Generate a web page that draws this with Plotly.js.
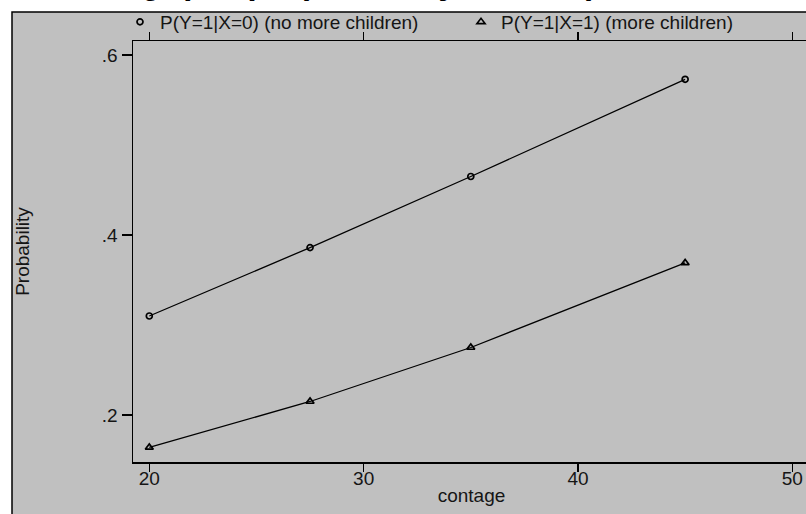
<!DOCTYPE html>
<html>
<head>
<meta charset="utf-8">
<script src="https://cdn.plot.ly/plotly-3.0.1.min.js"></script>
<style>
html, body { margin: 0; padding: 0; overflow: hidden; background: #ffffff; }
#chart { width: 810px; height: 514px; }
</style>
</head>
<body>
<div id="chart"></div>
<script>
// ---- data ----
const contage = [20, 27.5, 35, 45];
const pNoMoreChildren = [0.310, 0.386, 0.465, 0.573];
const pMoreChildren = [0.164, 0.215, 0.275, 0.369];
const seriesNames = ['P(Y=1|X=0) (no more children)', 'P(Y=1|X=1) (more children)'];
const xTickVals = [20, 30, 40, 50];
const xTickText = ['20', '30', '40', '50'];
const yTickVals = [0.2, 0.4, 0.6];
const yTickText = ['.2', '.4', '.6'];
const xTitle = 'contage';
const yTitle = 'Probability';
const topCommandText = 'e contage) c(ll) xlab ylab l1("Probabilit';

// ---- geometry helpers (pixels -> paper) ----
const W = 810, H = 514, ML = 133, MR = 0, MT = 41, MB = 52;
const PW = W - ML - MR, PH = H - MT - MB;
const px = x => (x - ML) / PW;
const py = y => 1 - (y - MT) / PH;

const FONT = 'Liberation Sans, Arial, Helvetica, sans-serif';
const TXT = '#151515';
const FS = 19;

const circleMarker = { symbol: 'circle-open', size: 6, color: '#000000', line: { width: 1.7, color: '#000000' } };
const triMarker = { symbol: 'triangle-up-open', size: 7, color: '#000000', line: { width: 1.7, color: '#000000' } };

const traces = [
  {
    x: contage, y: pNoMoreChildren, name: seriesNames[0], type: 'scatter', mode: 'lines+markers',
    line: { color: '#000000', width: 1.3 }, marker: circleMarker, showlegend: false
  },
  {
    x: contage, y: pMoreChildren, name: seriesNames[1], type: 'scatter', mode: 'lines+markers',
    line: { color: '#000000', width: 1.3 }, marker: triMarker, showlegend: false
  },
  // legend keys (marker only, like the reference key)
  { x: [null], y: [null], name: seriesNames[0], type: 'scatter', mode: 'markers', marker: circleMarker, showlegend: true },
  { x: [null], y: [null], name: seriesNames[1], type: 'scatter', mode: 'markers', marker: triMarker, showlegend: true }
];

const layout = {
  width: W, height: H,
  margin: { l: ML, r: MR, t: MT, b: MB, pad: 0 },
  paper_bgcolor: '#ffffff',
  plot_bgcolor: 'rgba(0,0,0,0)',
  font: { family: FONT, size: FS, color: TXT },
  showlegend: true,
  legend: {
    orientation: 'h', x: px(120), xanchor: 'left', y: py(22), yanchor: 'middle',
    bgcolor: 'rgba(0,0,0,0)', borderwidth: 0,
    font: { family: FONT, size: FS, color: TXT },
    entrywidth: 296, entrywidthmode: 'pixels',
    itemclick: false
  },
  xaxis: {
    range: [19.2395, 50.826], autorange: false,
    tickmode: 'array', tickvals: xTickVals, ticktext: xTickText,
    ticks: 'outside', ticklen: 8, tickwidth: 1.5, tickcolor: '#000000',
    ticklabelstandoff: -9,
    showline: true, linecolor: '#000000', linewidth: 1.5, mirror: 'allticks',
    showgrid: false, zeroline: false,
    tickfont: { family: FONT, size: FS, color: TXT },
    title: { text: xTitle, font: { family: FONT, size: FS, color: TXT }, standoff: 0 },
    automargin: false
  },
  yaxis: {
    range: [0.14778, 0.61556], autorange: false,
    tickmode: 'array', tickvals: yTickVals, ticktext: yTickText,
    ticks: 'outside', ticklen: 10, tickwidth: 1.5, tickcolor: '#000000',
    showline: true, linecolor: '#000000', linewidth: 1.5, mirror: false,
    showgrid: false, zeroline: false,
    tickfont: { family: FONT, size: FS, color: TXT },
    title: { text: yTitle, font: { family: FONT, size: FS, color: TXT }, standoff: 67 },
    automargin: false
  },
  shapes: [
    {
      type: 'rect', xref: 'paper', yref: 'paper', layer: 'below',
      x0: px(12), x1: 1.2, y0: -0.3, y1: py(12),
      fillcolor: '#c0c0c0', line: { color: '#000000', width: 1.5 }
    }
  ],
  annotations: [
    {
      text: topCommandText, xref: 'paper', yref: 'paper',
      x: px(0), y: py(6), xanchor: 'left', yanchor: 'bottom', showarrow: false,
      font: { family: 'Liberation Mono, Courier New, monospace', size: 33, color: '#000000', weight: 'bold' }
    }
  ]
};

Plotly.newPlot('chart', traces, layout, { staticPlot: true, displayModeBar: false });
</script>
</body>
</html>
